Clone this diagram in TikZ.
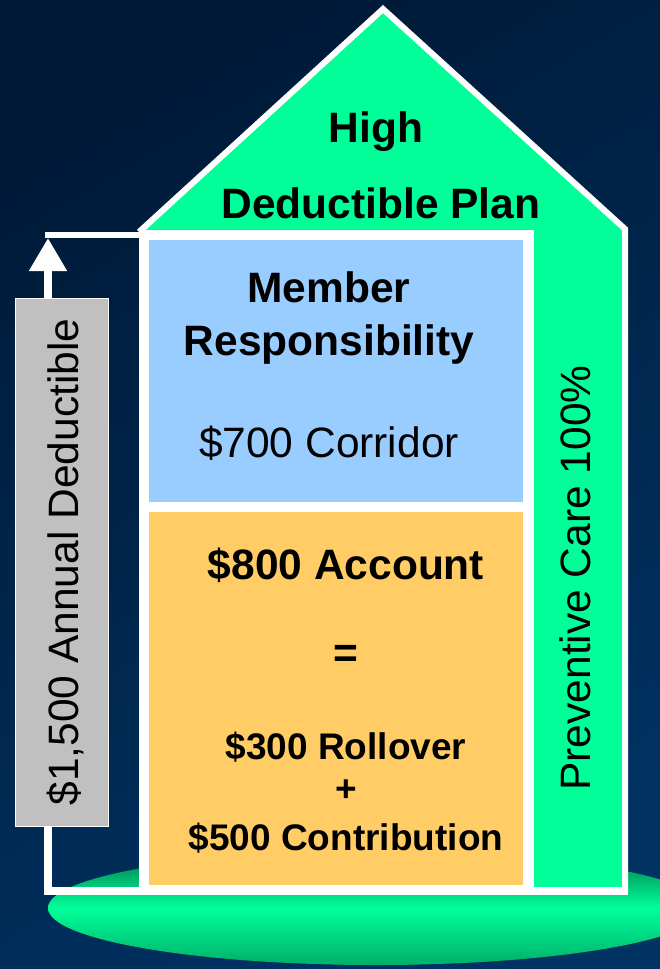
\documentclass[tikz,border=0pt]{standalone}
\usepackage{fontspec}
\setmainfont{Liberation Sans}
\usetikzlibrary{arrows.meta}

\definecolor{navyA}{RGB}{0,26,56}
\definecolor{navyB}{RGB}{0,50,98}
\definecolor{mint}{RGB}{0,255,153}
\definecolor{mintTop}{RGB}{0,175,105}
\definecolor{mintBot}{RGB}{0,115,70}
\definecolor{sky}{RGB}{153,204,255}
\definecolor{apricot}{RGB}{255,204,102}
\definecolor{silver}{RGB}{192,192,192}

\tikzset{
  big/.style={font=\fontsize{42.5}{48}\selectfont},
  bigb/.style={font=\fontsize{42.5}{48}\selectfont\bfseries},
  midb/.style={font=\fontsize{37}{42}\selectfont\bfseries},
  txt/.style={inner sep=0pt, outer sep=0pt, anchor=base, text=black},
  panel/.style={rectangle, inner sep=0pt, outer sep=0pt, anchor=north west},
  wline/.style={draw=white, line width=6pt},
}

\begin{document}
\begin{tikzpicture}[x=1pt,y=-1pt]
  % page and dark backdrop
  \useasboundingbox (0,0) rectangle (660,969);
  \shade[top color=navyA, bottom color=navyB, shading angle=30] (0,0) rectangle (660,969);

  % green base under the house (bright band through the middle;
  % the y axis points down here, so the shading's top lands at the bottom)
  \shade[top color=mintBot, bottom color=mintTop, middle color=mint]
    (376,908) ellipse [x radius=328pt, y radius=57pt];

  % house body: roof and right wall
  \fill[mint] (139,231) -- (383,9) -- (625,229) -- (625,891) -- (139,891) -- cycle;
  \draw[wline, line join=miter] (139,232) -- (383,9) -- (625,229) -- (625,891);

  % deductible arrow with its floor line and top bar
  \coordinate (sill) at (628,891);
  \coordinate (foot) at (48,891);
  \coordinate (tip) at (48,238);
  \coordinate (lintel) at (45,235);
  \coordinate (eave) at (140,235);
  \draw[draw=white, line width=8pt, line join=miter,
        -{Triangle[width=36pt,length=33pt]}] (sill) -- (foot) -- (tip);
  \draw[wline] (lintel) -- (eave);

  % framed boxes inside the house
  \node[panel, fill=white, minimum width=395pt, minimum height=665pt] (frame) at (139,230) {};
  \node[panel, fill=sky, minimum width=374pt, minimum height=262pt] (corridor) at (149,240) {};
  \node[panel, fill=apricot, minimum width=374pt, minimum height=373pt] (account) at (149,512) {};

  % grey label box on the arrow
  \node[panel, fill=silver, draw=white, line width=1pt,
        minimum width=93pt, minimum height=528pt] (deductbox) at (15,298) {};

  % roof text
  \node[txt, bigb] (high) at (376,142) {High};
  \node[txt, bigb] (plan) at (381,218) {Deductible Plan};

  % member responsibility box
  \node[txt, bigb] (member) at (329,302) {Member};
  \node[txt, bigb] (resp) at (329,355) {Responsibility};
  \node[txt, big] (corr) at (329,457) {\$700 Corridor};

  % account box
  \node[txt, bigb] (acct) at (346,579) {\$800 Account};
  \node[txt, bigb, anchor=center] (eq) at (346,656) {=};
  \node[txt, midb] (roll) at (346,759) {\$300 Rollover};
  \node[txt, midb, anchor=center] (plus) at (346,791) {+};
  \node[txt, midb] (contrib) at (346,850) {\$500 Contribution};

  % vertical labels
  \node[txt, big, rotate=90] (deduct) at (78,562) {\$1,500 Annual Deductible};
  \node[txt, big, rotate=90] (prev) at (590,578) {Preventive Care 100\%};
\end{tikzpicture}
\end{document}
